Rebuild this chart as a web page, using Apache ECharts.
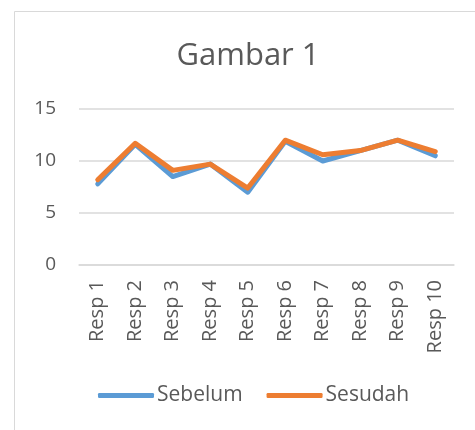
<!DOCTYPE html>
<html>
<head>
<meta charset="utf-8">
<script src="https://cdn.jsdelivr.net/npm/echarts@6/dist/echarts.min.js"></script>
<style>
  html, body { margin: 0; padding: 0; background: #fff; }
  #chart { width: 475px; height: 430px; }
</style>
</head>
<body>
<div id="chart"></div>
<script>
  // data
  const categories = ["Resp 1", "Resp 2", "Resp 3", "Resp 4", "Resp 5", "Resp 6", "Resp 7", "Resp 8", "Resp 9", "Resp 10"];
  const sebelum = [7.8, 11.6, 8.5, 9.7, 7.0, 11.9, 10.0, 11.0, 12.0, 10.5];
  const sesudah = [8.2, 11.7, 9.1, 9.7, 7.4, 12.0, 10.6, 11.0, 12.0, 10.9];
  const yTicks = { min: 0, max: 15, interval: 5 };

  const font = "'Open Sans', sans-serif";
  const textColor = "#595959";
  const gridColor = "#d9d9d9";

  var myChart = echarts.init(document.getElementById("chart"), null, { renderer: "canvas" });

  var option = {
    backgroundColor: "#fff",
    animation: false,
    title: {
      text: "Gambar 1",
      left: 248,
      top: 41,
      textAlign: "center",
      padding: 0,
      textStyle: { fontFamily: font, fontSize: 31, fontWeight: "normal", color: textColor },
    },
    legend: {
      left: 98,
      top: 385,
      padding: 0,
      itemGap: 24,
      itemWidth: 56,
      itemHeight: 5,
      icon: "roundRect",
      textStyle: { fontFamily: font, fontSize: 21, color: textColor, padding: [0, 0, 0, -2] },
      data: ["Sebelum", "Sesudah"],
    },
    graphic: [
      {
        type: "rect",
        silent: true,
        shape: { x: 14.5, y: 11.5, width: 700, height: 700 },
        style: { fill: "none", stroke: gridColor, lineWidth: 1 },
        z: -1,
      },
    ],
    grid: {
      left: 79,
      right: 21,
      top: 109,
      bottom: 165,
      containLabel: false,
      outerBoundsMode: "none",
    },
    xAxis: {
      type: "category",
      data: categories,
      boundaryGap: true,
      axisLine: { show: true, lineStyle: { color: gridColor, width: 1.5 } },
      axisTick: { show: false },
      axisLabel: {
        interval: 0,
        rotate: 90,
        margin: 15,
        fontFamily: font,
        fontSize: 20,
        color: textColor,
      },
    },
    yAxis: {
      type: "value",
      min: yTicks.min,
      max: yTicks.max,
      interval: yTicks.interval,
      axisLine: { show: false },
      axisTick: { show: false },
      splitLine: { lineStyle: { color: gridColor, width: 1.5 } },
      axisLabel: { margin: 23, fontFamily: font, fontSize: 19, color: textColor },
    },
    series: [
      {
        name: "Sebelum",
        type: "line",
        data: sebelum,
        showSymbol: false,
        symbol: "none",
        lineStyle: { color: "#5b9bd5", width: 5, cap: "round", join: "round" },
        itemStyle: { color: "#5b9bd5" },
      },
      {
        name: "Sesudah",
        type: "line",
        data: sesudah,
        showSymbol: false,
        symbol: "none",
        lineStyle: { color: "#ed7d31", width: 5, cap: "round", join: "round" },
        itemStyle: { color: "#ed7d31" },
      },
    ],
  };

  myChart.setOption(option);
</script>
</body>
</html>
